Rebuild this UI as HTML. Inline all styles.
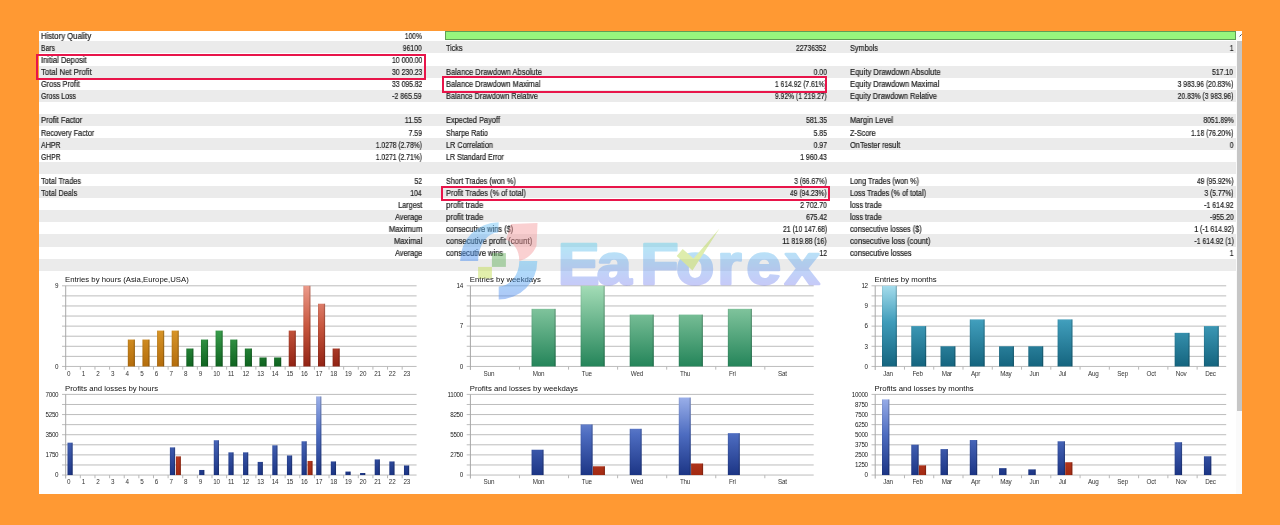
<!DOCTYPE html>
<html lang="en"><head><meta charset="utf-8"><title>Strategy Tester Report</title>
<style>
html,body{margin:0;padding:0}
body{width:1280px;height:525px;background:#ff9933;position:relative;overflow:hidden;font-family:"Liberation Sans",sans-serif}
#panel{position:absolute;left:38.5px;top:31px;width:1203.5px;height:462.7px;background:#fff;overflow:hidden}
.r{position:absolute;left:0;width:1197.8px;height:12.07px}
.g{background:#ebebeb}
.t{position:absolute;font-size:8.2px;line-height:12px;height:12px;color:#1c1c1c;white-space:nowrap;margin-top:1.7px;-webkit-text-stroke:0.2px #1c1c1c}
.t{will-change:transform}
.l{text-align:left;transform-origin:0 50%}
.v{text-align:right;transform-origin:100% 50%}
#qbar{position:absolute;left:406px;top:0.2px;width:789px;height:7px;background:#97f57d;border:1px solid #5f9e55}
.box{position:absolute;border:2px solid #e8154a;box-sizing:border-box}
#sb{position:absolute;left:1197.5px;top:0;width:6px;height:463px;background:#fafafa}
#sbt{position:absolute;left:1.3px;top:10px;width:4.5px;height:370px;background:#c6c6c6}
#sba{position:absolute;left:0;top:0;width:6px;height:10px;background:#fdfdfd}
svg{position:absolute;left:0;top:0;will-change:transform}
svg text{font-family:"Liberation Sans",sans-serif}
</style></head><body>
<div id="panel">
<div class="r" style="top:-1.70px"></div>
<div class="r g" style="top:10.37px"></div>
<div class="r" style="top:22.44px"></div>
<div class="r g" style="top:34.51px"></div>
<div class="r" style="top:46.58px"></div>
<div class="r g" style="top:58.65px"></div>
<div class="r" style="top:70.72px"></div>
<div class="r g" style="top:82.79px"></div>
<div class="r" style="top:94.86px"></div>
<div class="r g" style="top:106.93px"></div>
<div class="r" style="top:119.00px"></div>
<div class="r g" style="top:131.07px"></div>
<div class="r" style="top:143.14px"></div>
<div class="r g" style="top:155.21px"></div>
<div class="r" style="top:167.28px"></div>
<div class="r g" style="top:179.35px"></div>
<div class="r" style="top:191.42px"></div>
<div class="r g" style="top:203.49px"></div>
<div class="r" style="top:215.56px"></div>
<div class="r g" style="top:227.63px"></div>
<div id="qbar"></div>
<div class="t l" style="left:2.5px;top:-1.70px;transform:scaleX(0.942)">History Quality</div>
<div class="t v" style="right:820px;top:-1.70px;transform:scaleX(0.818)">100%</div>
<div class="t l" style="left:2.5px;top:10.37px;transform:scaleX(0.829)">Bars</div>
<div class="t v" style="right:820px;top:10.37px;transform:scaleX(0.836)">96100</div>
<div class="t l" style="left:407.7px;top:10.37px;transform:scaleX(0.877)">Ticks</div>
<div class="t v" style="right:415.2px;top:10.37px;transform:scaleX(0.836)">22736352</div>
<div class="t l" style="left:811.5px;top:10.37px;transform:scaleX(0.889)">Symbols</div>
<div class="t v" style="right:8.5px;top:10.37px;transform:scaleX(0.834)">1</div>
<div class="t l" style="left:2.5px;top:22.44px;transform:scaleX(0.929)">Initial Deposit</div>
<div class="t v" style="right:820px;top:22.44px;transform:scaleX(0.836)">10 000.00</div>
<div class="t l" style="left:2.5px;top:34.51px;transform:scaleX(0.945)">Total Net Profit</div>
<div class="t v" style="right:820px;top:34.51px;transform:scaleX(0.836)">30 230.23</div>
<div class="t l" style="left:407.7px;top:34.51px;transform:scaleX(0.919)">Balance Drawdown Absolute</div>
<div class="t v" style="right:415.2px;top:34.51px;transform:scaleX(0.836)">0.00</div>
<div class="t l" style="left:811.5px;top:34.51px;transform:scaleX(0.931)">Equity Drawdown Absolute</div>
<div class="t v" style="right:8.5px;top:34.51px;transform:scaleX(0.836)">517.10</div>
<div class="t l" style="left:2.5px;top:46.58px;transform:scaleX(0.895)">Gross Profit</div>
<div class="t v" style="right:820px;top:46.58px;transform:scaleX(0.836)">33 095.82</div>
<div class="t l" style="left:407.7px;top:46.58px;transform:scaleX(0.915)">Balance Drawdown Maximal</div>
<div class="t v" style="right:415.2px;top:46.58px;transform:scaleX(0.826)">1 614.92 (7.61%)</div>
<div class="t l" style="left:811.5px;top:46.58px;transform:scaleX(0.927)">Equity Drawdown Maximal</div>
<div class="t v" style="right:8.5px;top:46.58px;transform:scaleX(0.827)">3 983.96 (20.83%)</div>
<div class="t l" style="left:2.5px;top:58.65px;transform:scaleX(0.843)">Gross Loss</div>
<div class="t v" style="right:820px;top:58.65px;transform:scaleX(0.852)">-2 865.59</div>
<div class="t l" style="left:407.7px;top:58.65px;transform:scaleX(0.898)">Balance Drawdown Relative</div>
<div class="t v" style="right:415.2px;top:58.65px;transform:scaleX(0.826)">9.92% (1 219.27)</div>
<div class="t l" style="left:811.5px;top:58.65px;transform:scaleX(0.909)">Equity Drawdown Relative</div>
<div class="t v" style="right:8.5px;top:58.65px;transform:scaleX(0.827)">20.83% (3 983.96)</div>
<div class="t l" style="left:2.5px;top:82.79px;transform:scaleX(0.925)">Profit Factor</div>
<div class="t v" style="right:820px;top:82.79px;transform:scaleX(0.861)">11.55</div>
<div class="t l" style="left:407.7px;top:82.79px;transform:scaleX(0.907)">Expected Payoff</div>
<div class="t v" style="right:415.2px;top:82.79px;transform:scaleX(0.836)">581.35</div>
<div class="t l" style="left:811.5px;top:82.79px;transform:scaleX(0.920)">Margin Level</div>
<div class="t v" style="right:8.5px;top:82.79px;transform:scaleX(0.826)">8051.89%</div>
<div class="t l" style="left:2.5px;top:94.86px;transform:scaleX(0.887)">Recovery Factor</div>
<div class="t v" style="right:820px;top:94.86px;transform:scaleX(0.836)">7.59</div>
<div class="t l" style="left:407.7px;top:94.86px;transform:scaleX(0.876)">Sharpe Ratio</div>
<div class="t v" style="right:415.2px;top:94.86px;transform:scaleX(0.836)">5.85</div>
<div class="t l" style="left:811.5px;top:94.86px;transform:scaleX(0.882)">Z-Score</div>
<div class="t v" style="right:8.5px;top:94.86px;transform:scaleX(0.824)">1.18 (76.20%)</div>
<div class="t l" style="left:2.5px;top:106.93px;transform:scaleX(0.865)">AHPR</div>
<div class="t v" style="right:820px;top:106.93px;transform:scaleX(0.825)">1.0278 (2.78%)</div>
<div class="t l" style="left:407.7px;top:106.93px;transform:scaleX(0.889)">LR Correlation</div>
<div class="t v" style="right:415.2px;top:106.93px;transform:scaleX(0.836)">0.97</div>
<div class="t l" style="left:811.5px;top:106.93px;transform:scaleX(0.903)">OnTester result</div>
<div class="t v" style="right:8.5px;top:106.93px;transform:scaleX(0.834)">0</div>
<div class="t l" style="left:2.5px;top:119.00px;transform:scaleX(0.831)">GHPR</div>
<div class="t v" style="right:820px;top:119.00px;transform:scaleX(0.825)">1.0271 (2.71%)</div>
<div class="t l" style="left:407.7px;top:119.00px;transform:scaleX(0.869)">LR Standard Error</div>
<div class="t v" style="right:415.2px;top:119.00px;transform:scaleX(0.836)">1 960.43</div>
<div class="t l" style="left:2.5px;top:143.14px;transform:scaleX(0.896)">Total Trades</div>
<div class="t v" style="right:820px;top:143.14px;transform:scaleX(0.836)">52</div>
<div class="t l" style="left:407.7px;top:143.14px;transform:scaleX(0.880)">Short Trades (won %)</div>
<div class="t v" style="right:415.2px;top:143.14px;transform:scaleX(0.820)">3 (66.67%)</div>
<div class="t l" style="left:811.5px;top:143.14px;transform:scaleX(0.887)">Long Trades (won %)</div>
<div class="t v" style="right:8.5px;top:143.14px;transform:scaleX(0.822)">49 (95.92%)</div>
<div class="t l" style="left:2.5px;top:155.21px;transform:scaleX(0.893)">Total Deals</div>
<div class="t v" style="right:820px;top:155.21px;transform:scaleX(0.835)">104</div>
<div class="t l" style="left:407.7px;top:155.21px;transform:scaleX(0.904)">Profit Trades (% of total)</div>
<div class="t v" style="right:415.2px;top:155.21px;transform:scaleX(0.822)">49 (94.23%)</div>
<div class="t l" style="left:811.5px;top:155.21px;transform:scaleX(0.879)">Loss Trades (% of total)</div>
<div class="t v" style="right:8.5px;top:155.21px;transform:scaleX(0.819)">3 (5.77%)</div>
<div class="t v" style="right:820px;top:167.28px;transform:scaleX(0.883)">Largest</div>
<div class="t l" style="left:407.7px;top:167.28px;transform:scaleX(0.956)">profit trade</div>
<div class="t v" style="right:415.2px;top:167.28px;transform:scaleX(0.836)">2 702.70</div>
<div class="t l" style="left:811.5px;top:167.28px;transform:scaleX(0.894)">loss trade</div>
<div class="t v" style="right:8.5px;top:167.28px;transform:scaleX(0.852)">-1 614.92</div>
<div class="t v" style="right:820px;top:179.35px;transform:scaleX(0.899)">Average</div>
<div class="t l" style="left:407.7px;top:179.35px;transform:scaleX(0.956)">profit trade</div>
<div class="t v" style="right:415.2px;top:179.35px;transform:scaleX(0.836)">675.42</div>
<div class="t l" style="left:811.5px;top:179.35px;transform:scaleX(0.894)">loss trade</div>
<div class="t v" style="right:8.5px;top:179.35px;transform:scaleX(0.856)">-955.20</div>
<div class="t v" style="right:820px;top:191.42px;transform:scaleX(0.948)">Maximum</div>
<div class="t l" style="left:407.7px;top:191.42px;transform:scaleX(0.905)">consecutive wins ($)</div>
<div class="t v" style="right:415.2px;top:191.42px;transform:scaleX(0.831)">21 (10 147.68)</div>
<div class="t l" style="left:811.5px;top:191.42px;transform:scaleX(0.884)">consecutive losses ($)</div>
<div class="t v" style="right:8.5px;top:191.42px;transform:scaleX(0.843)">1 (-1 614.92)</div>
<div class="t v" style="right:820px;top:203.49px;transform:scaleX(0.937)">Maximal</div>
<div class="t l" style="left:407.7px;top:203.49px;transform:scaleX(0.942)">consecutive profit (count)</div>
<div class="t v" style="right:415.2px;top:203.49px;transform:scaleX(0.841)">11 819.88 (16)</div>
<div class="t l" style="left:811.5px;top:203.49px;transform:scaleX(0.916)">consecutive loss (count)</div>
<div class="t v" style="right:8.5px;top:203.49px;transform:scaleX(0.843)">-1 614.92 (1)</div>
<div class="t v" style="right:820px;top:215.56px;transform:scaleX(0.899)">Average</div>
<div class="t l" style="left:407.7px;top:215.56px;transform:scaleX(0.923)">consecutive wins</div>
<div class="t v" style="right:415.2px;top:215.56px;transform:scaleX(0.836)">12</div>
<div class="t l" style="left:811.5px;top:215.56px;transform:scaleX(0.896)">consecutive losses</div>
<div class="t v" style="right:8.5px;top:215.56px;transform:scaleX(0.834)">1</div>
<div id="sb"><div id="sba"><svg width="7" height="10" viewBox="0 0 7 10" style="position:absolute;left:0;top:0"><path d="M3.6 5.4 L5.6 3.4" stroke="#444" stroke-width="1" fill="none"/></svg></div><div id="sbt"></div></div>
</div>
<svg width="1280" height="525" viewBox="0 0 1280 525" fill="#111">
<defs>
<linearGradient id="gA" gradientUnits="userSpaceOnUse" x1="0" y1="286" x2="0" y2="366"><stop offset="0" stop-color="#f6c45e"/><stop offset="0.5" stop-color="#dc9a2c"/><stop offset="1" stop-color="#b46d0c"/></linearGradient>
<linearGradient id="gE" gradientUnits="userSpaceOnUse" x1="0" y1="286" x2="0" y2="366"><stop offset="0" stop-color="#7fd48a"/><stop offset="0.5" stop-color="#3fa552"/><stop offset="1" stop-color="#0f6420"/></linearGradient>
<linearGradient id="gU" gradientUnits="userSpaceOnUse" x1="0" y1="286" x2="0" y2="366"><stop offset="0" stop-color="#ec9a8a"/><stop offset="0.5" stop-color="#c8573f"/><stop offset="1" stop-color="#922314"/></linearGradient>
<linearGradient id="gW" gradientUnits="userSpaceOnUse" x1="0" y1="286" x2="0" y2="366"><stop offset="0" stop-color="#a3dcb6"/><stop offset="1" stop-color="#25855a"/></linearGradient>
<linearGradient id="gM" gradientUnits="userSpaceOnUse" x1="0" y1="286" x2="0" y2="366"><stop offset="0" stop-color="#a4dcec"/><stop offset="0.45" stop-color="#3f9cba"/><stop offset="1" stop-color="#15657f"/></linearGradient>
<linearGradient id="gP" gradientUnits="userSpaceOnUse" x1="0" y1="394.4" x2="0" y2="475"><stop offset="0" stop-color="#a0b4ec"/><stop offset="0.5" stop-color="#4d6cc0"/><stop offset="1" stop-color="#1c3585"/></linearGradient>
<linearGradient id="gL" gradientUnits="userSpaceOnUse" x1="0" y1="394.4" x2="0" y2="475"><stop offset="0" stop-color="#f0a080"/><stop offset="0.6" stop-color="#c4452a"/><stop offset="1" stop-color="#a32a12"/></linearGradient>
<linearGradient id="sh" x1="0" y1="0" x2="1" y2="0"><stop offset="0" stop-color="#000" stop-opacity="0.10"/><stop offset="0.25" stop-color="#fff" stop-opacity="0.10"/><stop offset="0.7" stop-color="#000" stop-opacity="0"/><stop offset="1" stop-color="#000" stop-opacity="0.22"/></linearGradient>
</defs>
<rect x="62.00" y="285.30" width="354.60" height="1" fill="#bdbdbd"/>
<rect x="62.00" y="295.38" width="354.60" height="1" fill="#bdbdbd"/>
<rect x="62.00" y="305.46" width="354.60" height="1" fill="#bdbdbd"/>
<rect x="62.00" y="315.54" width="354.60" height="1" fill="#bdbdbd"/>
<rect x="62.00" y="325.62" width="354.60" height="1" fill="#bdbdbd"/>
<rect x="62.00" y="335.70" width="354.60" height="1" fill="#bdbdbd"/>
<rect x="62.00" y="345.78" width="354.60" height="1" fill="#bdbdbd"/>
<rect x="62.00" y="355.86" width="354.60" height="1" fill="#bdbdbd"/>
<rect x="62.00" y="365.94" width="354.60" height="1" fill="#bdbdbd"/>
<rect x="65.20" y="285.80" width="1" height="84.14" fill="#a8a8a8"/>
<rect x="79.83" y="366.44" width="1" height="3.2" fill="#b8b8b8"/>
<rect x="94.46" y="366.44" width="1" height="3.2" fill="#b8b8b8"/>
<rect x="109.09" y="366.44" width="1" height="3.2" fill="#b8b8b8"/>
<rect x="123.72" y="366.44" width="1" height="3.2" fill="#b8b8b8"/>
<rect x="138.35" y="366.44" width="1" height="3.2" fill="#b8b8b8"/>
<rect x="152.97" y="366.44" width="1" height="3.2" fill="#b8b8b8"/>
<rect x="167.60" y="366.44" width="1" height="3.2" fill="#b8b8b8"/>
<rect x="182.23" y="366.44" width="1" height="3.2" fill="#b8b8b8"/>
<rect x="196.86" y="366.44" width="1" height="3.2" fill="#b8b8b8"/>
<rect x="211.49" y="366.44" width="1" height="3.2" fill="#b8b8b8"/>
<rect x="226.12" y="366.44" width="1" height="3.2" fill="#b8b8b8"/>
<rect x="240.75" y="366.44" width="1" height="3.2" fill="#b8b8b8"/>
<rect x="255.38" y="366.44" width="1" height="3.2" fill="#b8b8b8"/>
<rect x="270.01" y="366.44" width="1" height="3.2" fill="#b8b8b8"/>
<rect x="284.64" y="366.44" width="1" height="3.2" fill="#b8b8b8"/>
<rect x="299.27" y="366.44" width="1" height="3.2" fill="#b8b8b8"/>
<rect x="313.90" y="366.44" width="1" height="3.2" fill="#b8b8b8"/>
<rect x="328.53" y="366.44" width="1" height="3.2" fill="#b8b8b8"/>
<rect x="343.15" y="366.44" width="1" height="3.2" fill="#b8b8b8"/>
<rect x="357.78" y="366.44" width="1" height="3.2" fill="#b8b8b8"/>
<rect x="372.41" y="366.44" width="1" height="3.2" fill="#b8b8b8"/>
<rect x="387.04" y="366.44" width="1" height="3.2" fill="#b8b8b8"/>
<rect x="401.67" y="366.44" width="1" height="3.2" fill="#b8b8b8"/>
<text x="65.10" y="282.10" font-size="7.75">Entries by hours (Asia,Europe,USA)</text>
<text x="58.30" y="288.10" font-size="6.3" text-anchor="end" letter-spacing="-0.3" fill="#222">9</text>
<text x="58.30" y="368.74" font-size="6.3" text-anchor="end" letter-spacing="-0.3" fill="#222">0</text>
<text x="67.00" y="375.74" font-size="6.3" letter-spacing="-0.2" fill="#333">0</text>
<text x="81.63" y="375.74" font-size="6.3" letter-spacing="-0.2" fill="#333">1</text>
<text x="96.26" y="375.74" font-size="6.3" letter-spacing="-0.2" fill="#333">2</text>
<text x="110.89" y="375.74" font-size="6.3" letter-spacing="-0.2" fill="#333">3</text>
<text x="125.52" y="375.74" font-size="6.3" letter-spacing="-0.2" fill="#333">4</text>
<text x="140.15" y="375.74" font-size="6.3" letter-spacing="-0.2" fill="#333">5</text>
<text x="154.78" y="375.74" font-size="6.3" letter-spacing="-0.2" fill="#333">6</text>
<text x="169.40" y="375.74" font-size="6.3" letter-spacing="-0.2" fill="#333">7</text>
<text x="184.03" y="375.74" font-size="6.3" letter-spacing="-0.2" fill="#333">8</text>
<text x="198.66" y="375.74" font-size="6.3" letter-spacing="-0.2" fill="#333">9</text>
<text x="213.29" y="375.74" font-size="6.3" letter-spacing="-0.2" fill="#333">10</text>
<text x="227.92" y="375.74" font-size="6.3" letter-spacing="-0.2" fill="#333">11</text>
<text x="242.55" y="375.74" font-size="6.3" letter-spacing="-0.2" fill="#333">12</text>
<text x="257.18" y="375.74" font-size="6.3" letter-spacing="-0.2" fill="#333">13</text>
<text x="271.81" y="375.74" font-size="6.3" letter-spacing="-0.2" fill="#333">14</text>
<text x="286.44" y="375.74" font-size="6.3" letter-spacing="-0.2" fill="#333">15</text>
<text x="301.07" y="375.74" font-size="6.3" letter-spacing="-0.2" fill="#333">16</text>
<text x="315.70" y="375.74" font-size="6.3" letter-spacing="-0.2" fill="#333">17</text>
<text x="330.33" y="375.74" font-size="6.3" letter-spacing="-0.2" fill="#333">18</text>
<text x="344.95" y="375.74" font-size="6.3" letter-spacing="-0.2" fill="#333">19</text>
<text x="359.58" y="375.74" font-size="6.3" letter-spacing="-0.2" fill="#333">20</text>
<text x="374.21" y="375.74" font-size="6.3" letter-spacing="-0.2" fill="#333">21</text>
<text x="388.84" y="375.74" font-size="6.3" letter-spacing="-0.2" fill="#333">22</text>
<text x="403.47" y="375.74" font-size="6.3" letter-spacing="-0.2" fill="#333">23</text>
<rect x="127.82" y="339.56" width="7.10" height="26.88" fill="url(#gA)"/>
<rect x="127.82" y="339.56" width="0.9" height="26.88" fill="#000" fill-opacity="0.08"/>
<rect x="133.72" y="339.56" width="1.2" height="26.88" fill="#000" fill-opacity="0.2"/>
<rect x="142.45" y="339.56" width="7.10" height="26.88" fill="url(#gA)"/>
<rect x="142.45" y="339.56" width="0.9" height="26.88" fill="#000" fill-opacity="0.08"/>
<rect x="148.35" y="339.56" width="1.2" height="26.88" fill="#000" fill-opacity="0.2"/>
<rect x="157.08" y="330.60" width="7.10" height="35.84" fill="url(#gA)"/>
<rect x="157.08" y="330.60" width="0.9" height="35.84" fill="#000" fill-opacity="0.08"/>
<rect x="162.98" y="330.60" width="1.2" height="35.84" fill="#000" fill-opacity="0.2"/>
<rect x="171.70" y="330.60" width="7.10" height="35.84" fill="url(#gA)"/>
<rect x="171.70" y="330.60" width="0.9" height="35.84" fill="#000" fill-opacity="0.08"/>
<rect x="177.60" y="330.60" width="1.2" height="35.84" fill="#000" fill-opacity="0.2"/>
<rect x="186.33" y="348.52" width="7.10" height="17.92" fill="url(#gE)"/>
<rect x="186.33" y="348.52" width="0.9" height="17.92" fill="#000" fill-opacity="0.08"/>
<rect x="192.23" y="348.52" width="1.2" height="17.92" fill="#000" fill-opacity="0.2"/>
<rect x="200.96" y="339.56" width="7.10" height="26.88" fill="url(#gE)"/>
<rect x="200.96" y="339.56" width="0.9" height="26.88" fill="#000" fill-opacity="0.08"/>
<rect x="206.86" y="339.56" width="1.2" height="26.88" fill="#000" fill-opacity="0.2"/>
<rect x="215.59" y="330.60" width="7.10" height="35.84" fill="url(#gE)"/>
<rect x="215.59" y="330.60" width="0.9" height="35.84" fill="#000" fill-opacity="0.08"/>
<rect x="221.49" y="330.60" width="1.2" height="35.84" fill="#000" fill-opacity="0.2"/>
<rect x="230.22" y="339.56" width="7.10" height="26.88" fill="url(#gE)"/>
<rect x="230.22" y="339.56" width="0.9" height="26.88" fill="#000" fill-opacity="0.08"/>
<rect x="236.12" y="339.56" width="1.2" height="26.88" fill="#000" fill-opacity="0.2"/>
<rect x="244.85" y="348.52" width="7.10" height="17.92" fill="url(#gE)"/>
<rect x="244.85" y="348.52" width="0.9" height="17.92" fill="#000" fill-opacity="0.08"/>
<rect x="250.75" y="348.52" width="1.2" height="17.92" fill="#000" fill-opacity="0.2"/>
<rect x="259.48" y="357.48" width="7.10" height="8.96" fill="url(#gE)"/>
<rect x="259.48" y="357.48" width="0.9" height="8.96" fill="#000" fill-opacity="0.08"/>
<rect x="265.38" y="357.48" width="1.2" height="8.96" fill="#000" fill-opacity="0.2"/>
<rect x="274.11" y="357.48" width="7.10" height="8.96" fill="url(#gE)"/>
<rect x="274.11" y="357.48" width="0.9" height="8.96" fill="#000" fill-opacity="0.08"/>
<rect x="280.01" y="357.48" width="1.2" height="8.96" fill="#000" fill-opacity="0.2"/>
<rect x="288.74" y="330.60" width="7.10" height="35.84" fill="url(#gU)"/>
<rect x="288.74" y="330.60" width="0.9" height="35.84" fill="#000" fill-opacity="0.08"/>
<rect x="294.64" y="330.60" width="1.2" height="35.84" fill="#000" fill-opacity="0.2"/>
<rect x="303.37" y="285.80" width="7.10" height="80.64" fill="url(#gU)"/>
<rect x="303.37" y="285.80" width="0.9" height="80.64" fill="#000" fill-opacity="0.08"/>
<rect x="309.27" y="285.80" width="1.2" height="80.64" fill="#000" fill-opacity="0.2"/>
<rect x="318.00" y="303.72" width="7.10" height="62.72" fill="url(#gU)"/>
<rect x="318.00" y="303.72" width="0.9" height="62.72" fill="#000" fill-opacity="0.08"/>
<rect x="323.90" y="303.72" width="1.2" height="62.72" fill="#000" fill-opacity="0.2"/>
<rect x="332.63" y="348.52" width="7.10" height="17.92" fill="url(#gU)"/>
<rect x="332.63" y="348.52" width="0.9" height="17.92" fill="#000" fill-opacity="0.08"/>
<rect x="338.53" y="348.52" width="1.2" height="17.92" fill="#000" fill-opacity="0.2"/>
<rect x="62.00" y="393.90" width="354.60" height="1" fill="#bdbdbd"/>
<rect x="62.00" y="403.98" width="354.60" height="1" fill="#bdbdbd"/>
<rect x="62.00" y="414.06" width="354.60" height="1" fill="#bdbdbd"/>
<rect x="62.00" y="424.14" width="354.60" height="1" fill="#bdbdbd"/>
<rect x="62.00" y="434.22" width="354.60" height="1" fill="#bdbdbd"/>
<rect x="62.00" y="444.30" width="354.60" height="1" fill="#bdbdbd"/>
<rect x="62.00" y="454.38" width="354.60" height="1" fill="#bdbdbd"/>
<rect x="62.00" y="464.46" width="354.60" height="1" fill="#bdbdbd"/>
<rect x="62.00" y="474.54" width="354.60" height="1" fill="#bdbdbd"/>
<rect x="65.20" y="394.40" width="1" height="84.14" fill="#a8a8a8"/>
<rect x="79.83" y="475.04" width="1" height="3.2" fill="#b8b8b8"/>
<rect x="94.46" y="475.04" width="1" height="3.2" fill="#b8b8b8"/>
<rect x="109.09" y="475.04" width="1" height="3.2" fill="#b8b8b8"/>
<rect x="123.72" y="475.04" width="1" height="3.2" fill="#b8b8b8"/>
<rect x="138.35" y="475.04" width="1" height="3.2" fill="#b8b8b8"/>
<rect x="152.97" y="475.04" width="1" height="3.2" fill="#b8b8b8"/>
<rect x="167.60" y="475.04" width="1" height="3.2" fill="#b8b8b8"/>
<rect x="182.23" y="475.04" width="1" height="3.2" fill="#b8b8b8"/>
<rect x="196.86" y="475.04" width="1" height="3.2" fill="#b8b8b8"/>
<rect x="211.49" y="475.04" width="1" height="3.2" fill="#b8b8b8"/>
<rect x="226.12" y="475.04" width="1" height="3.2" fill="#b8b8b8"/>
<rect x="240.75" y="475.04" width="1" height="3.2" fill="#b8b8b8"/>
<rect x="255.38" y="475.04" width="1" height="3.2" fill="#b8b8b8"/>
<rect x="270.01" y="475.04" width="1" height="3.2" fill="#b8b8b8"/>
<rect x="284.64" y="475.04" width="1" height="3.2" fill="#b8b8b8"/>
<rect x="299.27" y="475.04" width="1" height="3.2" fill="#b8b8b8"/>
<rect x="313.90" y="475.04" width="1" height="3.2" fill="#b8b8b8"/>
<rect x="328.53" y="475.04" width="1" height="3.2" fill="#b8b8b8"/>
<rect x="343.15" y="475.04" width="1" height="3.2" fill="#b8b8b8"/>
<rect x="357.78" y="475.04" width="1" height="3.2" fill="#b8b8b8"/>
<rect x="372.41" y="475.04" width="1" height="3.2" fill="#b8b8b8"/>
<rect x="387.04" y="475.04" width="1" height="3.2" fill="#b8b8b8"/>
<rect x="401.67" y="475.04" width="1" height="3.2" fill="#b8b8b8"/>
<text x="65.10" y="390.70" font-size="7.75">Profits and losses by hours</text>
<text x="58.30" y="396.70" font-size="6.3" text-anchor="end" letter-spacing="-0.3" fill="#222">7000</text>
<text x="58.30" y="416.86" font-size="6.3" text-anchor="end" letter-spacing="-0.3" fill="#222">5250</text>
<text x="58.30" y="437.02" font-size="6.3" text-anchor="end" letter-spacing="-0.3" fill="#222">3500</text>
<text x="58.30" y="457.18" font-size="6.3" text-anchor="end" letter-spacing="-0.3" fill="#222">1750</text>
<text x="58.30" y="477.34" font-size="6.3" text-anchor="end" letter-spacing="-0.3" fill="#222">0</text>
<text x="67.00" y="484.34" font-size="6.3" letter-spacing="-0.2" fill="#333">0</text>
<text x="81.63" y="484.34" font-size="6.3" letter-spacing="-0.2" fill="#333">1</text>
<text x="96.26" y="484.34" font-size="6.3" letter-spacing="-0.2" fill="#333">2</text>
<text x="110.89" y="484.34" font-size="6.3" letter-spacing="-0.2" fill="#333">3</text>
<text x="125.52" y="484.34" font-size="6.3" letter-spacing="-0.2" fill="#333">4</text>
<text x="140.15" y="484.34" font-size="6.3" letter-spacing="-0.2" fill="#333">5</text>
<text x="154.78" y="484.34" font-size="6.3" letter-spacing="-0.2" fill="#333">6</text>
<text x="169.40" y="484.34" font-size="6.3" letter-spacing="-0.2" fill="#333">7</text>
<text x="184.03" y="484.34" font-size="6.3" letter-spacing="-0.2" fill="#333">8</text>
<text x="198.66" y="484.34" font-size="6.3" letter-spacing="-0.2" fill="#333">9</text>
<text x="213.29" y="484.34" font-size="6.3" letter-spacing="-0.2" fill="#333">10</text>
<text x="227.92" y="484.34" font-size="6.3" letter-spacing="-0.2" fill="#333">11</text>
<text x="242.55" y="484.34" font-size="6.3" letter-spacing="-0.2" fill="#333">12</text>
<text x="257.18" y="484.34" font-size="6.3" letter-spacing="-0.2" fill="#333">13</text>
<text x="271.81" y="484.34" font-size="6.3" letter-spacing="-0.2" fill="#333">14</text>
<text x="286.44" y="484.34" font-size="6.3" letter-spacing="-0.2" fill="#333">15</text>
<text x="301.07" y="484.34" font-size="6.3" letter-spacing="-0.2" fill="#333">16</text>
<text x="315.70" y="484.34" font-size="6.3" letter-spacing="-0.2" fill="#333">17</text>
<text x="330.33" y="484.34" font-size="6.3" letter-spacing="-0.2" fill="#333">18</text>
<text x="344.95" y="484.34" font-size="6.3" letter-spacing="-0.2" fill="#333">19</text>
<text x="359.58" y="484.34" font-size="6.3" letter-spacing="-0.2" fill="#333">20</text>
<text x="374.21" y="484.34" font-size="6.3" letter-spacing="-0.2" fill="#333">21</text>
<text x="388.84" y="484.34" font-size="6.3" letter-spacing="-0.2" fill="#333">22</text>
<text x="403.47" y="484.34" font-size="6.3" letter-spacing="-0.2" fill="#333">23</text>
<rect x="67.50" y="442.67" width="5.20" height="32.37" fill="url(#gP)"/>
<rect x="67.50" y="442.67" width="0.9" height="32.37" fill="#000" fill-opacity="0.08"/>
<rect x="71.50" y="442.67" width="1.2" height="32.37" fill="#000" fill-opacity="0.2"/>
<rect x="169.90" y="447.39" width="5.20" height="27.65" fill="url(#gP)"/>
<rect x="169.90" y="447.39" width="0.9" height="27.65" fill="#000" fill-opacity="0.08"/>
<rect x="173.90" y="447.39" width="1.2" height="27.65" fill="#000" fill-opacity="0.2"/>
<rect x="199.16" y="469.97" width="5.20" height="5.07" fill="url(#gP)"/>
<rect x="199.16" y="469.97" width="0.9" height="5.07" fill="#000" fill-opacity="0.08"/>
<rect x="203.16" y="469.97" width="1.2" height="5.07" fill="#000" fill-opacity="0.2"/>
<rect x="213.79" y="440.25" width="5.20" height="34.79" fill="url(#gP)"/>
<rect x="213.79" y="440.25" width="0.9" height="34.79" fill="#000" fill-opacity="0.08"/>
<rect x="217.79" y="440.25" width="1.2" height="34.79" fill="#000" fill-opacity="0.2"/>
<rect x="228.42" y="452.35" width="5.20" height="22.69" fill="url(#gP)"/>
<rect x="228.42" y="452.35" width="0.9" height="22.69" fill="#000" fill-opacity="0.08"/>
<rect x="232.42" y="452.35" width="1.2" height="22.69" fill="#000" fill-opacity="0.2"/>
<rect x="243.05" y="452.35" width="5.20" height="22.69" fill="url(#gP)"/>
<rect x="243.05" y="452.35" width="0.9" height="22.69" fill="#000" fill-opacity="0.08"/>
<rect x="247.05" y="452.35" width="1.2" height="22.69" fill="#000" fill-opacity="0.2"/>
<rect x="257.68" y="461.91" width="5.20" height="13.13" fill="url(#gP)"/>
<rect x="257.68" y="461.91" width="0.9" height="13.13" fill="#000" fill-opacity="0.08"/>
<rect x="261.68" y="461.91" width="1.2" height="13.13" fill="#000" fill-opacity="0.2"/>
<rect x="272.31" y="445.32" width="5.20" height="29.72" fill="url(#gP)"/>
<rect x="272.31" y="445.32" width="0.9" height="29.72" fill="#000" fill-opacity="0.08"/>
<rect x="276.31" y="445.32" width="1.2" height="29.72" fill="#000" fill-opacity="0.2"/>
<rect x="286.94" y="455.46" width="5.20" height="19.58" fill="url(#gP)"/>
<rect x="286.94" y="455.46" width="0.9" height="19.58" fill="#000" fill-opacity="0.08"/>
<rect x="290.94" y="455.46" width="1.2" height="19.58" fill="#000" fill-opacity="0.2"/>
<rect x="301.57" y="441.29" width="5.20" height="33.75" fill="url(#gP)"/>
<rect x="301.57" y="441.29" width="0.9" height="33.75" fill="#000" fill-opacity="0.08"/>
<rect x="305.57" y="441.29" width="1.2" height="33.75" fill="#000" fill-opacity="0.2"/>
<rect x="316.20" y="396.42" width="5.20" height="78.62" fill="url(#gP)"/>
<rect x="316.20" y="396.42" width="0.9" height="78.62" fill="#000" fill-opacity="0.08"/>
<rect x="320.20" y="396.42" width="1.2" height="78.62" fill="#000" fill-opacity="0.2"/>
<rect x="330.83" y="461.45" width="5.20" height="13.59" fill="url(#gP)"/>
<rect x="330.83" y="461.45" width="0.9" height="13.59" fill="#000" fill-opacity="0.08"/>
<rect x="334.83" y="461.45" width="1.2" height="13.59" fill="#000" fill-opacity="0.2"/>
<rect x="345.45" y="471.58" width="5.20" height="3.46" fill="url(#gP)"/>
<rect x="345.45" y="471.58" width="0.9" height="3.46" fill="#000" fill-opacity="0.08"/>
<rect x="349.45" y="471.58" width="1.2" height="3.46" fill="#000" fill-opacity="0.2"/>
<rect x="360.08" y="473.02" width="5.20" height="2.02" fill="url(#gP)"/>
<rect x="360.08" y="473.02" width="0.9" height="2.02" fill="#000" fill-opacity="0.08"/>
<rect x="364.08" y="473.02" width="1.2" height="2.02" fill="#000" fill-opacity="0.2"/>
<rect x="374.71" y="459.42" width="5.20" height="15.62" fill="url(#gP)"/>
<rect x="374.71" y="459.42" width="0.9" height="15.62" fill="#000" fill-opacity="0.08"/>
<rect x="378.71" y="459.42" width="1.2" height="15.62" fill="#000" fill-opacity="0.2"/>
<rect x="389.34" y="461.45" width="5.20" height="13.59" fill="url(#gP)"/>
<rect x="389.34" y="461.45" width="0.9" height="13.59" fill="#000" fill-opacity="0.08"/>
<rect x="393.34" y="461.45" width="1.2" height="13.59" fill="#000" fill-opacity="0.2"/>
<rect x="403.97" y="465.48" width="5.20" height="9.56" fill="url(#gP)"/>
<rect x="403.97" y="465.48" width="0.9" height="9.56" fill="#000" fill-opacity="0.08"/>
<rect x="407.97" y="465.48" width="1.2" height="9.56" fill="#000" fill-opacity="0.2"/>
<rect x="175.90" y="456.38" width="5.00" height="18.66" fill="url(#gL)"/>
<rect x="175.90" y="456.38" width="0.9" height="18.66" fill="#000" fill-opacity="0.08"/>
<rect x="179.70" y="456.38" width="1.2" height="18.66" fill="#000" fill-opacity="0.2"/>
<rect x="307.57" y="460.93" width="5.00" height="14.11" fill="url(#gL)"/>
<rect x="307.57" y="460.93" width="0.9" height="14.11" fill="#000" fill-opacity="0.08"/>
<rect x="311.37" y="460.93" width="1.2" height="14.11" fill="#000" fill-opacity="0.2"/>
<rect x="466.70" y="285.30" width="347.00" height="1" fill="#bdbdbd"/>
<rect x="466.70" y="295.38" width="347.00" height="1" fill="#bdbdbd"/>
<rect x="466.70" y="305.46" width="347.00" height="1" fill="#bdbdbd"/>
<rect x="466.70" y="315.54" width="347.00" height="1" fill="#bdbdbd"/>
<rect x="466.70" y="325.62" width="347.00" height="1" fill="#bdbdbd"/>
<rect x="466.70" y="335.70" width="347.00" height="1" fill="#bdbdbd"/>
<rect x="466.70" y="345.78" width="347.00" height="1" fill="#bdbdbd"/>
<rect x="466.70" y="355.86" width="347.00" height="1" fill="#bdbdbd"/>
<rect x="466.70" y="365.94" width="347.00" height="1" fill="#bdbdbd"/>
<rect x="469.90" y="285.80" width="1" height="84.14" fill="#a8a8a8"/>
<rect x="518.97" y="366.44" width="1" height="3.2" fill="#b8b8b8"/>
<rect x="568.04" y="366.44" width="1" height="3.2" fill="#b8b8b8"/>
<rect x="617.11" y="366.44" width="1" height="3.2" fill="#b8b8b8"/>
<rect x="666.19" y="366.44" width="1" height="3.2" fill="#b8b8b8"/>
<rect x="715.26" y="366.44" width="1" height="3.2" fill="#b8b8b8"/>
<rect x="764.33" y="366.44" width="1" height="3.2" fill="#b8b8b8"/>
<text x="469.80" y="282.10" font-size="7.75">Entries by weekdays</text>
<text x="463.00" y="288.10" font-size="6.3" text-anchor="end" letter-spacing="-0.3" fill="#222">14</text>
<text x="463.00" y="328.42" font-size="6.3" text-anchor="end" letter-spacing="-0.3" fill="#222">7</text>
<text x="463.00" y="368.74" font-size="6.3" text-anchor="end" letter-spacing="-0.3" fill="#222">0</text>
<text x="483.60" y="375.74" font-size="6.3" letter-spacing="-0.2" fill="#333">Sun</text>
<text x="532.67" y="375.74" font-size="6.3" letter-spacing="-0.2" fill="#333">Mon</text>
<text x="581.74" y="375.74" font-size="6.3" letter-spacing="-0.2" fill="#333">Tue</text>
<text x="630.81" y="375.74" font-size="6.3" letter-spacing="-0.2" fill="#333">Wed</text>
<text x="679.89" y="375.74" font-size="6.3" letter-spacing="-0.2" fill="#333">Thu</text>
<text x="728.96" y="375.74" font-size="6.3" letter-spacing="-0.2" fill="#333">Fri</text>
<text x="778.03" y="375.74" font-size="6.3" letter-spacing="-0.2" fill="#333">Sat</text>
<rect x="531.57" y="308.84" width="24.10" height="57.60" fill="url(#gW)"/>
<rect x="531.57" y="308.84" width="0.9" height="57.60" fill="#000" fill-opacity="0.08"/>
<rect x="554.47" y="308.84" width="1.2" height="57.60" fill="#000" fill-opacity="0.2"/>
<rect x="580.64" y="285.80" width="24.10" height="80.64" fill="url(#gW)"/>
<rect x="580.64" y="285.80" width="0.9" height="80.64" fill="#000" fill-opacity="0.08"/>
<rect x="603.54" y="285.80" width="1.2" height="80.64" fill="#000" fill-opacity="0.2"/>
<rect x="629.71" y="314.60" width="24.10" height="51.84" fill="url(#gW)"/>
<rect x="629.71" y="314.60" width="0.9" height="51.84" fill="#000" fill-opacity="0.08"/>
<rect x="652.61" y="314.60" width="1.2" height="51.84" fill="#000" fill-opacity="0.2"/>
<rect x="678.79" y="314.60" width="24.10" height="51.84" fill="url(#gW)"/>
<rect x="678.79" y="314.60" width="0.9" height="51.84" fill="#000" fill-opacity="0.08"/>
<rect x="701.69" y="314.60" width="1.2" height="51.84" fill="#000" fill-opacity="0.2"/>
<rect x="727.86" y="308.84" width="24.10" height="57.60" fill="url(#gW)"/>
<rect x="727.86" y="308.84" width="0.9" height="57.60" fill="#000" fill-opacity="0.08"/>
<rect x="750.76" y="308.84" width="1.2" height="57.60" fill="#000" fill-opacity="0.2"/>
<rect x="466.70" y="393.90" width="347.00" height="1" fill="#bdbdbd"/>
<rect x="466.70" y="403.98" width="347.00" height="1" fill="#bdbdbd"/>
<rect x="466.70" y="414.06" width="347.00" height="1" fill="#bdbdbd"/>
<rect x="466.70" y="424.14" width="347.00" height="1" fill="#bdbdbd"/>
<rect x="466.70" y="434.22" width="347.00" height="1" fill="#bdbdbd"/>
<rect x="466.70" y="444.30" width="347.00" height="1" fill="#bdbdbd"/>
<rect x="466.70" y="454.38" width="347.00" height="1" fill="#bdbdbd"/>
<rect x="466.70" y="464.46" width="347.00" height="1" fill="#bdbdbd"/>
<rect x="466.70" y="474.54" width="347.00" height="1" fill="#bdbdbd"/>
<rect x="469.90" y="394.40" width="1" height="84.14" fill="#a8a8a8"/>
<rect x="518.97" y="475.04" width="1" height="3.2" fill="#b8b8b8"/>
<rect x="568.04" y="475.04" width="1" height="3.2" fill="#b8b8b8"/>
<rect x="617.11" y="475.04" width="1" height="3.2" fill="#b8b8b8"/>
<rect x="666.19" y="475.04" width="1" height="3.2" fill="#b8b8b8"/>
<rect x="715.26" y="475.04" width="1" height="3.2" fill="#b8b8b8"/>
<rect x="764.33" y="475.04" width="1" height="3.2" fill="#b8b8b8"/>
<text x="469.80" y="390.70" font-size="7.75">Profits and losses by weekdays</text>
<text x="463.00" y="396.70" font-size="6.3" text-anchor="end" letter-spacing="-0.3" fill="#222">11000</text>
<text x="463.00" y="416.86" font-size="6.3" text-anchor="end" letter-spacing="-0.3" fill="#222">8250</text>
<text x="463.00" y="437.02" font-size="6.3" text-anchor="end" letter-spacing="-0.3" fill="#222">5500</text>
<text x="463.00" y="457.18" font-size="6.3" text-anchor="end" letter-spacing="-0.3" fill="#222">2750</text>
<text x="463.00" y="477.34" font-size="6.3" text-anchor="end" letter-spacing="-0.3" fill="#222">0</text>
<text x="483.60" y="484.34" font-size="6.3" letter-spacing="-0.2" fill="#333">Sun</text>
<text x="532.67" y="484.34" font-size="6.3" letter-spacing="-0.2" fill="#333">Mon</text>
<text x="581.74" y="484.34" font-size="6.3" letter-spacing="-0.2" fill="#333">Tue</text>
<text x="630.81" y="484.34" font-size="6.3" letter-spacing="-0.2" fill="#333">Wed</text>
<text x="679.89" y="484.34" font-size="6.3" letter-spacing="-0.2" fill="#333">Thu</text>
<text x="728.96" y="484.34" font-size="6.3" letter-spacing="-0.2" fill="#333">Fri</text>
<text x="778.03" y="484.34" font-size="6.3" letter-spacing="-0.2" fill="#333">Sat</text>
<rect x="531.57" y="449.73" width="12.00" height="25.31" fill="url(#gP)"/>
<rect x="531.57" y="449.73" width="0.9" height="25.31" fill="#000" fill-opacity="0.08"/>
<rect x="542.37" y="449.73" width="1.2" height="25.31" fill="#000" fill-opacity="0.2"/>
<rect x="580.64" y="424.41" width="12.00" height="50.63" fill="url(#gP)"/>
<rect x="580.64" y="424.41" width="0.9" height="50.63" fill="#000" fill-opacity="0.08"/>
<rect x="591.44" y="424.41" width="1.2" height="50.63" fill="#000" fill-opacity="0.2"/>
<rect x="629.71" y="428.78" width="12.00" height="46.26" fill="url(#gP)"/>
<rect x="629.71" y="428.78" width="0.9" height="46.26" fill="#000" fill-opacity="0.08"/>
<rect x="640.51" y="428.78" width="1.2" height="46.26" fill="#000" fill-opacity="0.2"/>
<rect x="678.79" y="397.52" width="12.00" height="77.52" fill="url(#gP)"/>
<rect x="678.79" y="397.52" width="0.9" height="77.52" fill="#000" fill-opacity="0.08"/>
<rect x="689.59" y="397.52" width="1.2" height="77.52" fill="#000" fill-opacity="0.2"/>
<rect x="727.86" y="433.16" width="12.00" height="41.88" fill="url(#gP)"/>
<rect x="727.86" y="433.16" width="0.9" height="41.88" fill="#000" fill-opacity="0.08"/>
<rect x="738.66" y="433.16" width="1.2" height="41.88" fill="#000" fill-opacity="0.2"/>
<rect x="592.94" y="466.29" width="12.00" height="8.75" fill="url(#gL)"/>
<rect x="592.94" y="466.29" width="0.9" height="8.75" fill="#000" fill-opacity="0.08"/>
<rect x="603.74" y="466.29" width="1.2" height="8.75" fill="#000" fill-opacity="0.2"/>
<rect x="691.09" y="463.48" width="12.00" height="11.56" fill="url(#gL)"/>
<rect x="691.09" y="463.48" width="0.9" height="11.56" fill="#000" fill-opacity="0.08"/>
<rect x="701.89" y="463.48" width="1.2" height="11.56" fill="#000" fill-opacity="0.2"/>
<rect x="871.50" y="285.30" width="354.70" height="1" fill="#bdbdbd"/>
<rect x="871.50" y="295.38" width="354.70" height="1" fill="#bdbdbd"/>
<rect x="871.50" y="305.46" width="354.70" height="1" fill="#bdbdbd"/>
<rect x="871.50" y="315.54" width="354.70" height="1" fill="#bdbdbd"/>
<rect x="871.50" y="325.62" width="354.70" height="1" fill="#bdbdbd"/>
<rect x="871.50" y="335.70" width="354.70" height="1" fill="#bdbdbd"/>
<rect x="871.50" y="345.78" width="354.70" height="1" fill="#bdbdbd"/>
<rect x="871.50" y="355.86" width="354.70" height="1" fill="#bdbdbd"/>
<rect x="871.50" y="365.94" width="354.70" height="1" fill="#bdbdbd"/>
<rect x="874.70" y="285.80" width="1" height="84.14" fill="#a8a8a8"/>
<rect x="903.97" y="366.44" width="1" height="3.2" fill="#b8b8b8"/>
<rect x="933.23" y="366.44" width="1" height="3.2" fill="#b8b8b8"/>
<rect x="962.50" y="366.44" width="1" height="3.2" fill="#b8b8b8"/>
<rect x="991.77" y="366.44" width="1" height="3.2" fill="#b8b8b8"/>
<rect x="1021.03" y="366.44" width="1" height="3.2" fill="#b8b8b8"/>
<rect x="1050.30" y="366.44" width="1" height="3.2" fill="#b8b8b8"/>
<rect x="1079.57" y="366.44" width="1" height="3.2" fill="#b8b8b8"/>
<rect x="1108.83" y="366.44" width="1" height="3.2" fill="#b8b8b8"/>
<rect x="1138.10" y="366.44" width="1" height="3.2" fill="#b8b8b8"/>
<rect x="1167.37" y="366.44" width="1" height="3.2" fill="#b8b8b8"/>
<rect x="1196.63" y="366.44" width="1" height="3.2" fill="#b8b8b8"/>
<text x="874.60" y="282.10" font-size="7.75">Entries by months</text>
<text x="867.80" y="288.10" font-size="6.3" text-anchor="end" letter-spacing="-0.3" fill="#222">12</text>
<text x="867.80" y="308.26" font-size="6.3" text-anchor="end" letter-spacing="-0.3" fill="#222">9</text>
<text x="867.80" y="328.42" font-size="6.3" text-anchor="end" letter-spacing="-0.3" fill="#222">6</text>
<text x="867.80" y="348.58" font-size="6.3" text-anchor="end" letter-spacing="-0.3" fill="#222">3</text>
<text x="867.80" y="368.74" font-size="6.3" text-anchor="end" letter-spacing="-0.3" fill="#222">0</text>
<text x="883.20" y="375.74" font-size="6.3" letter-spacing="-0.2" fill="#333">Jan</text>
<text x="912.47" y="375.74" font-size="6.3" letter-spacing="-0.2" fill="#333">Feb</text>
<text x="941.73" y="375.74" font-size="6.3" letter-spacing="-0.2" fill="#333">Mar</text>
<text x="971.00" y="375.74" font-size="6.3" letter-spacing="-0.2" fill="#333">Apr</text>
<text x="1000.27" y="375.74" font-size="6.3" letter-spacing="-0.2" fill="#333">May</text>
<text x="1029.53" y="375.74" font-size="6.3" letter-spacing="-0.2" fill="#333">Jun</text>
<text x="1058.80" y="375.74" font-size="6.3" letter-spacing="-0.2" fill="#333">Jul</text>
<text x="1088.07" y="375.74" font-size="6.3" letter-spacing="-0.2" fill="#333">Aug</text>
<text x="1117.33" y="375.74" font-size="6.3" letter-spacing="-0.2" fill="#333">Sep</text>
<text x="1146.60" y="375.74" font-size="6.3" letter-spacing="-0.2" fill="#333">Oct</text>
<text x="1175.87" y="375.74" font-size="6.3" letter-spacing="-0.2" fill="#333">Nov</text>
<text x="1205.13" y="375.74" font-size="6.3" letter-spacing="-0.2" fill="#333">Dec</text>
<rect x="882.00" y="285.80" width="14.90" height="80.64" fill="url(#gM)"/>
<rect x="882.00" y="285.80" width="0.9" height="80.64" fill="#000" fill-opacity="0.08"/>
<rect x="895.70" y="285.80" width="1.2" height="80.64" fill="#000" fill-opacity="0.2"/>
<rect x="911.27" y="326.12" width="14.90" height="40.32" fill="url(#gM)"/>
<rect x="911.27" y="326.12" width="0.9" height="40.32" fill="#000" fill-opacity="0.08"/>
<rect x="924.97" y="326.12" width="1.2" height="40.32" fill="#000" fill-opacity="0.2"/>
<rect x="940.53" y="346.28" width="14.90" height="20.16" fill="url(#gM)"/>
<rect x="940.53" y="346.28" width="0.9" height="20.16" fill="#000" fill-opacity="0.08"/>
<rect x="954.23" y="346.28" width="1.2" height="20.16" fill="#000" fill-opacity="0.2"/>
<rect x="969.80" y="319.40" width="14.90" height="47.04" fill="url(#gM)"/>
<rect x="969.80" y="319.40" width="0.9" height="47.04" fill="#000" fill-opacity="0.08"/>
<rect x="983.50" y="319.40" width="1.2" height="47.04" fill="#000" fill-opacity="0.2"/>
<rect x="999.07" y="346.28" width="14.90" height="20.16" fill="url(#gM)"/>
<rect x="999.07" y="346.28" width="0.9" height="20.16" fill="#000" fill-opacity="0.08"/>
<rect x="1012.77" y="346.28" width="1.2" height="20.16" fill="#000" fill-opacity="0.2"/>
<rect x="1028.33" y="346.28" width="14.90" height="20.16" fill="url(#gM)"/>
<rect x="1028.33" y="346.28" width="0.9" height="20.16" fill="#000" fill-opacity="0.08"/>
<rect x="1042.03" y="346.28" width="1.2" height="20.16" fill="#000" fill-opacity="0.2"/>
<rect x="1057.60" y="319.40" width="14.90" height="47.04" fill="url(#gM)"/>
<rect x="1057.60" y="319.40" width="0.9" height="47.04" fill="#000" fill-opacity="0.08"/>
<rect x="1071.30" y="319.40" width="1.2" height="47.04" fill="#000" fill-opacity="0.2"/>
<rect x="1174.67" y="332.84" width="14.90" height="33.60" fill="url(#gM)"/>
<rect x="1174.67" y="332.84" width="0.9" height="33.60" fill="#000" fill-opacity="0.08"/>
<rect x="1188.37" y="332.84" width="1.2" height="33.60" fill="#000" fill-opacity="0.2"/>
<rect x="1203.93" y="326.12" width="14.90" height="40.32" fill="url(#gM)"/>
<rect x="1203.93" y="326.12" width="0.9" height="40.32" fill="#000" fill-opacity="0.08"/>
<rect x="1217.63" y="326.12" width="1.2" height="40.32" fill="#000" fill-opacity="0.2"/>
<rect x="871.50" y="393.90" width="354.70" height="1" fill="#bdbdbd"/>
<rect x="871.50" y="403.98" width="354.70" height="1" fill="#bdbdbd"/>
<rect x="871.50" y="414.06" width="354.70" height="1" fill="#bdbdbd"/>
<rect x="871.50" y="424.14" width="354.70" height="1" fill="#bdbdbd"/>
<rect x="871.50" y="434.22" width="354.70" height="1" fill="#bdbdbd"/>
<rect x="871.50" y="444.30" width="354.70" height="1" fill="#bdbdbd"/>
<rect x="871.50" y="454.38" width="354.70" height="1" fill="#bdbdbd"/>
<rect x="871.50" y="464.46" width="354.70" height="1" fill="#bdbdbd"/>
<rect x="871.50" y="474.54" width="354.70" height="1" fill="#bdbdbd"/>
<rect x="874.70" y="394.40" width="1" height="84.14" fill="#a8a8a8"/>
<rect x="903.97" y="475.04" width="1" height="3.2" fill="#b8b8b8"/>
<rect x="933.23" y="475.04" width="1" height="3.2" fill="#b8b8b8"/>
<rect x="962.50" y="475.04" width="1" height="3.2" fill="#b8b8b8"/>
<rect x="991.77" y="475.04" width="1" height="3.2" fill="#b8b8b8"/>
<rect x="1021.03" y="475.04" width="1" height="3.2" fill="#b8b8b8"/>
<rect x="1050.30" y="475.04" width="1" height="3.2" fill="#b8b8b8"/>
<rect x="1079.57" y="475.04" width="1" height="3.2" fill="#b8b8b8"/>
<rect x="1108.83" y="475.04" width="1" height="3.2" fill="#b8b8b8"/>
<rect x="1138.10" y="475.04" width="1" height="3.2" fill="#b8b8b8"/>
<rect x="1167.37" y="475.04" width="1" height="3.2" fill="#b8b8b8"/>
<rect x="1196.63" y="475.04" width="1" height="3.2" fill="#b8b8b8"/>
<text x="874.60" y="390.70" font-size="7.75">Profits and losses by months</text>
<text x="867.80" y="396.70" font-size="6.3" text-anchor="end" letter-spacing="-0.3" fill="#222">10000</text>
<text x="867.80" y="406.78" font-size="6.3" text-anchor="end" letter-spacing="-0.3" fill="#222">8750</text>
<text x="867.80" y="416.86" font-size="6.3" text-anchor="end" letter-spacing="-0.3" fill="#222">7500</text>
<text x="867.80" y="426.94" font-size="6.3" text-anchor="end" letter-spacing="-0.3" fill="#222">6250</text>
<text x="867.80" y="437.02" font-size="6.3" text-anchor="end" letter-spacing="-0.3" fill="#222">5000</text>
<text x="867.80" y="447.10" font-size="6.3" text-anchor="end" letter-spacing="-0.3" fill="#222">3750</text>
<text x="867.80" y="457.18" font-size="6.3" text-anchor="end" letter-spacing="-0.3" fill="#222">2500</text>
<text x="867.80" y="467.26" font-size="6.3" text-anchor="end" letter-spacing="-0.3" fill="#222">1250</text>
<text x="867.80" y="477.34" font-size="6.3" text-anchor="end" letter-spacing="-0.3" fill="#222">0</text>
<text x="883.20" y="484.34" font-size="6.3" letter-spacing="-0.2" fill="#333">Jan</text>
<text x="912.47" y="484.34" font-size="6.3" letter-spacing="-0.2" fill="#333">Feb</text>
<text x="941.73" y="484.34" font-size="6.3" letter-spacing="-0.2" fill="#333">Mar</text>
<text x="971.00" y="484.34" font-size="6.3" letter-spacing="-0.2" fill="#333">Apr</text>
<text x="1000.27" y="484.34" font-size="6.3" letter-spacing="-0.2" fill="#333">May</text>
<text x="1029.53" y="484.34" font-size="6.3" letter-spacing="-0.2" fill="#333">Jun</text>
<text x="1058.80" y="484.34" font-size="6.3" letter-spacing="-0.2" fill="#333">Jul</text>
<text x="1088.07" y="484.34" font-size="6.3" letter-spacing="-0.2" fill="#333">Aug</text>
<text x="1117.33" y="484.34" font-size="6.3" letter-spacing="-0.2" fill="#333">Sep</text>
<text x="1146.60" y="484.34" font-size="6.3" letter-spacing="-0.2" fill="#333">Oct</text>
<text x="1175.87" y="484.34" font-size="6.3" letter-spacing="-0.2" fill="#333">Nov</text>
<text x="1205.13" y="484.34" font-size="6.3" letter-spacing="-0.2" fill="#333">Dec</text>
<rect x="882.00" y="399.40" width="7.40" height="75.64" fill="url(#gP)"/>
<rect x="882.00" y="399.40" width="0.9" height="75.64" fill="#000" fill-opacity="0.08"/>
<rect x="888.20" y="399.40" width="1.2" height="75.64" fill="#000" fill-opacity="0.2"/>
<rect x="911.27" y="444.72" width="7.40" height="30.32" fill="url(#gP)"/>
<rect x="911.27" y="444.72" width="0.9" height="30.32" fill="#000" fill-opacity="0.08"/>
<rect x="917.47" y="444.72" width="1.2" height="30.32" fill="#000" fill-opacity="0.2"/>
<rect x="940.53" y="449.10" width="7.40" height="25.94" fill="url(#gP)"/>
<rect x="940.53" y="449.10" width="0.9" height="25.94" fill="#000" fill-opacity="0.08"/>
<rect x="946.73" y="449.10" width="1.2" height="25.94" fill="#000" fill-opacity="0.2"/>
<rect x="969.80" y="440.03" width="7.40" height="35.01" fill="url(#gP)"/>
<rect x="969.80" y="440.03" width="0.9" height="35.01" fill="#000" fill-opacity="0.08"/>
<rect x="976.00" y="440.03" width="1.2" height="35.01" fill="#000" fill-opacity="0.2"/>
<rect x="999.07" y="468.16" width="7.40" height="6.88" fill="url(#gP)"/>
<rect x="999.07" y="468.16" width="0.9" height="6.88" fill="#000" fill-opacity="0.08"/>
<rect x="1005.27" y="468.16" width="1.2" height="6.88" fill="#000" fill-opacity="0.2"/>
<rect x="1028.33" y="469.40" width="7.40" height="5.64" fill="url(#gP)"/>
<rect x="1028.33" y="469.40" width="0.9" height="5.64" fill="#000" fill-opacity="0.08"/>
<rect x="1034.53" y="469.40" width="1.2" height="5.64" fill="#000" fill-opacity="0.2"/>
<rect x="1057.60" y="441.28" width="7.40" height="33.76" fill="url(#gP)"/>
<rect x="1057.60" y="441.28" width="0.9" height="33.76" fill="#000" fill-opacity="0.08"/>
<rect x="1063.80" y="441.28" width="1.2" height="33.76" fill="#000" fill-opacity="0.2"/>
<rect x="1174.67" y="442.22" width="7.40" height="32.82" fill="url(#gP)"/>
<rect x="1174.67" y="442.22" width="0.9" height="32.82" fill="#000" fill-opacity="0.08"/>
<rect x="1180.87" y="442.22" width="1.2" height="32.82" fill="#000" fill-opacity="0.2"/>
<rect x="1203.93" y="456.28" width="7.40" height="18.76" fill="url(#gP)"/>
<rect x="1203.93" y="456.28" width="0.9" height="18.76" fill="#000" fill-opacity="0.08"/>
<rect x="1210.13" y="456.28" width="1.2" height="18.76" fill="#000" fill-opacity="0.2"/>
<rect x="918.87" y="465.36" width="7.20" height="9.68" fill="url(#gL)"/>
<rect x="918.87" y="465.36" width="0.9" height="9.68" fill="#000" fill-opacity="0.08"/>
<rect x="924.87" y="465.36" width="1.2" height="9.68" fill="#000" fill-opacity="0.2"/>
<rect x="1065.20" y="462.23" width="7.20" height="12.81" fill="url(#gL)"/>
<rect x="1065.20" y="462.23" width="0.9" height="12.81" fill="#000" fill-opacity="0.08"/>
<rect x="1071.20" y="462.23" width="1.2" height="12.81" fill="#000" fill-opacity="0.2"/>
</svg>
<div class="box" style="left:36.2px;top:53.5px;width:389.7px;height:26.9px"></div>
<div class="box" style="left:442.4px;top:76.2px;width:384.6px;height:17.2px"></div>
<div class="box" style="left:441.0px;top:186.0px;width:389.0px;height:14.9px"></div>
<svg id="wm" width="1280" height="525" viewBox="0 0 1280 525">
<defs>
<linearGradient id="wg" gradientUnits="userSpaceOnUse" x1="0" y1="-43" x2="0" y2="1"><stop offset="0" stop-color="#48cbe8"/><stop offset="0.55" stop-color="#5e9cf0"/><stop offset="1" stop-color="#747cf0"/></linearGradient>
<linearGradient id="w1" gradientUnits="userSpaceOnUse" x1="0" y1="222" x2="0" y2="261"><stop offset="0" stop-color="#6cc4f6"/><stop offset="1" stop-color="#3f86ee"/></linearGradient>
<linearGradient id="w2" gradientUnits="userSpaceOnUse" x1="0" y1="261" x2="0" y2="300"><stop offset="0" stop-color="#58bdf6"/><stop offset="1" stop-color="#4a84ec"/></linearGradient>
</defs>
<g opacity="0.46">
<path d="M460.1 260.9 A38.6 38.6 0 0 1 498.7 222.3 L498.2 232.6 A20.1 28.3 0 0 0 478.1 260.9 Z" fill="url(#w1)"/>
<path d="M511 224 L537.5 223 L536.5 246 C533 254 527 259 519.3 261 C519.3 250 514 243 506 239.5 Z" fill="#f4989c"/>
<rect x="491.9" y="253.1" width="14" height="13.8" fill="#5fae58"/>
<rect x="478.1" y="266.9" width="13.8" height="11.5" fill="#bfdc4a"/>
<path d="M537.3 260.9 A38.6 38.6 0 0 1 498.7 299.5 L498.7 286.5 A20.6 25.6 0 0 0 519.3 260.9 Z" fill="url(#w2)"/>
<text transform="translate(0 284.2) scale(1.1 1)" x="507 542.5 582 614.5 652 678.5 713.5" y="0" font-size="57" font-weight="bold" style="fill:url(#wg);stroke:url(#wg);stroke-width:2.4px;stroke-linejoin:round" opacity="0.88">EaForex</text>
<path d="M676.7 256 L682.7 249 L693.5 258.5 L719.5 228.5 L692.5 270.5 Z" fill="#b8d84e"/>
</g></svg>
</body></html>
